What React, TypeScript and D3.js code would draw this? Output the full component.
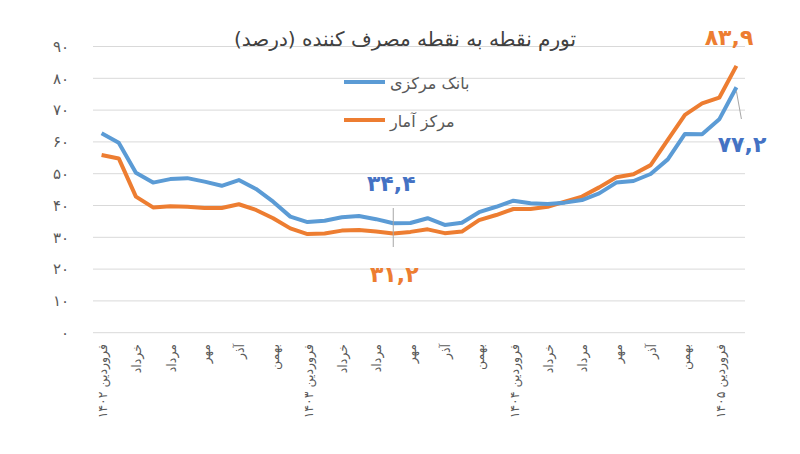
import React from "react";
import * as d3 from "d3";

// monthly series, farvardin 1402 .. ordibehesht 1405
const monthNames = ["فروردین", "اردیبهشت", "خرداد", "تیر", "مرداد", "شهریور", "مهر", "آبان", "آذر", "دی", "بهمن", "اسفند"];
const years = ["۱۴۰۲", "۱۴۰۳", "۱۴۰۴", "۱۴۰۵"];
const cbi = [62.7, 59.7, 50.3, 47.2, 48.3, 48.6, 47.5, 46.2, 48.0, 45.2, 41.2, 36.5,
  34.8, 35.2, 36.3, 36.7, 35.7, 34.4, 34.5, 36.0, 33.9, 34.6, 37.9, 39.6,
  41.5, 40.7, 40.5, 40.9, 41.7, 43.8, 47.2, 47.7, 49.9, 54.5, 62.5, 62.4,
  67.1, 77.2];
const sci = [55.9, 54.8, 42.8, 39.4, 39.8, 39.6, 39.2, 39.2, 40.4, 38.6, 36.0, 32.8,
  31.0, 31.2, 32.1, 32.3, 31.8, 31.2, 31.7, 32.5, 31.3, 31.8, 35.4, 37.0,
  38.9, 38.9, 39.6, 41.2, 42.8, 45.7, 48.9, 49.8, 52.7, 60.6, 68.5, 72.1,
  73.9, 83.9];
const yTicks = [0, 10, 20, 30, 40, 50, 60, 70, 80, 90];
const seriesNames = ["بانک مرکزی", "مرکز آمار"];

const faDigits = (s: string) => s.replace(/[0-9]/g, (c) => "۰۱۲۳۴۵۶۷۸۹"[+c]);
const faNum = (v: number) => faDigits(String(v).replace(".", ","));

const W = 800;
const H = 454;
const BLUE = "#5b9bd5";
const ORANGE = "#ed7d31";
const FONT = "'DejaVu Sans', sans-serif";

export default function App() {
  const idx = cbi.map((_, i) => i);
  const labels = idx.map((i) => {
    const m = monthNames[i % 12];
    return i % 12 === 0 ? `${m} ${years[Math.floor(i / 12)]}` : m;
  });

  const x = d3.scaleBand<number>().domain(idx).range([93, 745]);
  const y = d3.scaleLinear().domain([0, 90]).range([332.7, 46.5]);
  const cx = (i: number) => x(i)! + x.bandwidth() / 2;

  const line = d3.line<number>().x((_, i) => cx(i)).y((d) => y(d));

  const last = cbi.length - 1;
  const mid = 17;

  return (
    <svg width={W} height={H} style={{ position: "absolute", left: 0, top: 0, background: "#fff" }} fontFamily={FONT}>
      {yTicks.map((t) => (
        <g key={t}>
          <line x1={93} x2={745} y1={y(t)} y2={y(t)} stroke="#d9d9d9" strokeWidth={1} />
          <text x={69} y={y(t)} dy="0.35em" textAnchor="end" fontSize={15} fill="#595959">
            {faDigits(String(t))}
          </text>
        </g>
      ))}

      {idx.filter((i) => i % 2 === 0).map((i) => (
        <text key={i} transform={`translate(${cx(i) + 1},344) rotate(-90)`} dy="0.35em"
          textAnchor="end" fontSize={12.5} fill="#595959">
          {labels[i]}
        </text>
      ))}

      <text x={405} y={46} textAnchor="middle" fontSize={20} fill="#404040">
        تورم نقطه به نقطه مصرف کننده (درصد)
      </text>

      {/* legend */}
      <line x1={344} x2={385} y1={82} y2={82} stroke={BLUE} strokeWidth={4} />
      <text x={390} y={89} fontSize={16} fill="#595959">{seriesNames[0]}</text>
      <line x1={344} x2={385} y1={120} y2={120} stroke={ORANGE} strokeWidth={4} />
      <text x={390} y={127} fontSize={16} fill="#595959">{seriesNames[1]}</text>

      <path d={line(sci)!} fill="none" stroke={ORANGE} strokeWidth={4} strokeLinejoin="round" />
      <path d={line(cbi)!} fill="none" stroke={BLUE} strokeWidth={4} strokeLinejoin="round" />

      {/* data labels */}
      <line x1={cx(mid)} x2={cx(mid)} y1={208} y2={247} stroke="#a6a6a6" strokeWidth={1} />
      <text x={cx(mid) - 2} y={191} textAnchor="middle" fontSize={22} fontWeight="bold" fill="#4472c4">
        {faNum(cbi[mid])}
      </text>
      <text x={cx(mid) + 1} y={282} textAnchor="middle" fontSize={22} fontWeight="bold" fill={ORANGE}>
        {faNum(sci[mid])}
      </text>
      <line x1={cx(last)} x2={cx(last) + 5} y1={y(cbi[last]) + 4} y2={119} stroke="#a6a6a6" strokeWidth={1} />
      <text x={742} y={152} textAnchor="middle" fontSize={22} fontWeight="bold" fill="#4472c4">
        {faNum(cbi[last])}
      </text>
      <text x={729} y={45} textAnchor="middle" fontSize={22} fontWeight="bold" fill={ORANGE}>
        {faNum(sci[last])}
      </text>
    </svg>
  );
}
